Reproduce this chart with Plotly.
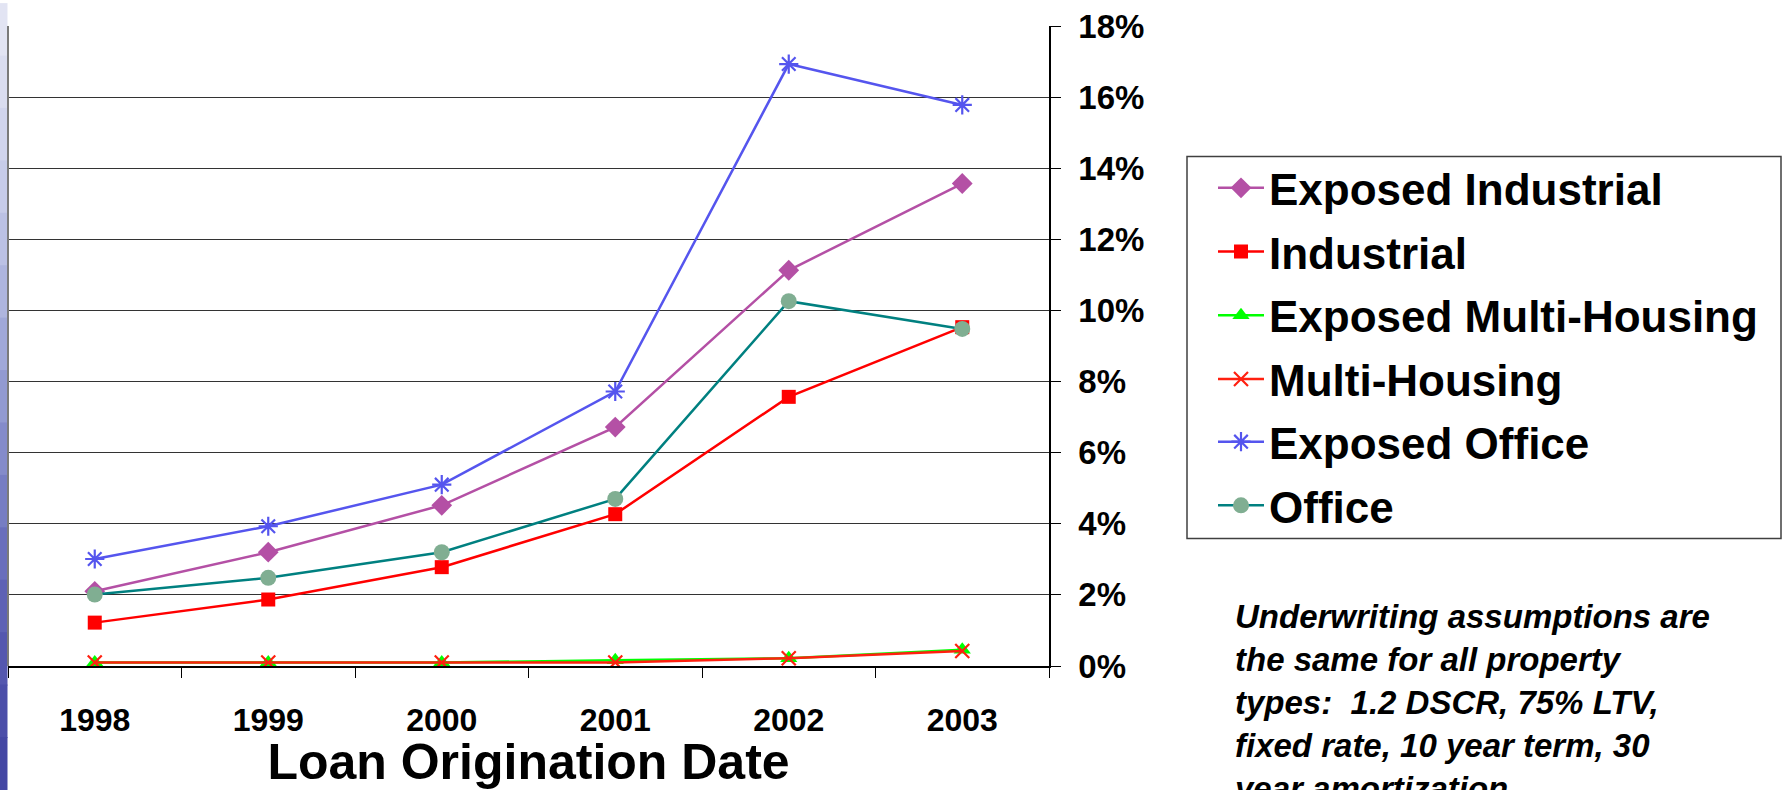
import plotly.graph_objects as go

# ---------------- data ----------------
years = ["1998", "1999", "2000", "2001", "2002", "2003"]

exposed_industrial = [2.10, 3.20, 4.52, 6.72, 11.13, 13.57]
industrial = [1.22, 1.87, 2.78, 4.27, 7.57, 9.53]
exposed_multi_housing = [0.10, 0.10, 0.10, 0.16, 0.22, 0.46]
multi_housing = [0.10, 0.10, 0.10, 0.10, 0.22, 0.42]
exposed_office = [3.01, 3.93, 5.10, 7.72, 16.93, 15.78]
office = [2.01, 2.48, 3.20, 4.70, 10.26, 9.48]

y_tick_vals = [0, 2, 4, 6, 8, 10, 12, 14, 16, 18]
y_tick_text = ["0%", "2%", "4%", "6%", "8%", "10%", "12%", "14%", "16%", "18%"]

note_lines = [
    "Underwriting assumptions are",
    "the same for all property",
    "types:  1.2 DSCR, 75% LTV,",
    "fixed rate, 10 year term, 30",
    "year amortization",
]

# ---------------- layout geometry (pixels) ----------------
FW, FH = 1784, 790
L, R, T, B = 8, 1049, 23, 666
W, H = R - L, B - T


def px_x(px):
    return (px - L) / W


def px_y(py):
    return (B - py) / H


FONT = "Liberation Sans, Arial, sans-serif"

series = [
    ("Exposed Industrial", exposed_industrial, "#B450A5", dict(symbol="diamond", size=16, color="#B450A5")),
    ("Industrial", industrial, "#FF0000", dict(symbol="square", size=14, color="#FF0000")),
    ("Exposed Multi-Housing", exposed_multi_housing, "#00FF00", dict(symbol="triangle-up", size=15, color="#00FF00")),
    ("Multi-Housing", multi_housing, "#FF2010", dict(symbol="x-thin", size=14, color="#FF2010", line=dict(width=2.2, color="#FF2010"))),
    ("Exposed Office", exposed_office, "#5555EE", dict(symbol="asterisk", size=16, color="#5555EE", line=dict(width=2.2, color="#5555EE"))),
    ("Office", office, "#008080", dict(symbol="circle", size=16, color="#80AE92")),
]
legend_centers = [186, 250, 314, 378, 441, 505]

fig = go.Figure()
legend_layouts = {}
for i, (name, vals, lc, mk) in enumerate(series):
    lname = "legend" if i == 0 else f"legend{i + 1}"
    fig.add_trace(go.Scatter(
        x=years, y=vals, name=name, mode="lines+markers",
        line=dict(color=lc, width=2.5), marker=mk, legend=lname,
    ))
    legend_layouts[lname] = dict(
        x=px_x(1213), y=px_y(legend_centers[i]), xanchor="left", yanchor="middle",
        font=dict(family=FONT, size=44, color="black", weight="bold"),
        bgcolor="rgba(0,0,0,0)", borderwidth=0, itemwidth=46,
    )

shapes = []
# left decorative gradient strip (slide background)
strip_cols = ["#E2E4F3", "#DADDF0", "#D1D5ED", "#C7CCE9", "#BBC1E4", "#AEB5DE", "#A0A8D8",
              "#929AD1", "#848BCA", "#767DC3", "#696EBC", "#5E62B5", "#5457AF", "#4B4EA9", "#4447A4"]
n = len(strip_cols)
for i, c in enumerate(strip_cols):
    y0 = i * FH / n
    y1 = (i + 1) * FH / n + 1
    shapes.append(dict(type="rect", xref="paper", yref="paper",
                       x0=px_x(0), x1=px_x(7.5), y0=px_y(y1), y1=px_y(y0),
                       fillcolor=c, line=dict(width=0), layer="below"))
# left border of plot area
shapes.append(dict(type="line", xref="paper", yref="paper", x0=0, x1=0, y0=0, y1=1,
                   line=dict(color="#7A7A7A", width=2)))
# legend frame
shapes.append(dict(type="rect", xref="paper", yref="paper",
                   x0=px_x(1187), x1=px_x(1781), y0=px_y(538), y1=px_y(154),
                   line=dict(color="#404040", width=1.5), fillcolor="rgba(0,0,0,0)"))

fig.update_layout(
    width=FW, height=FH,
    margin=dict(l=L, r=FW - R, t=T, b=FH - B),
    paper_bgcolor="white", plot_bgcolor="white",
    font=dict(family=FONT, color="black"),
    shapes=shapes,
    showlegend=True,
    xaxis=dict(
        type="category", range=[-0.5, 5.5],
        showgrid=False, showline=True, linecolor="black", linewidth=1.5,
        ticks="outside", ticklen=10, tickcolor="black", tickwidth=1.2,
        tickson="boundaries", ticklabelstandoff=25,
        tickfont=dict(family=FONT, size=32, color="black", weight="bold"),
        title=dict(text="Loan Origination Date", standoff=3,
                   font=dict(family=FONT, size=50, color="black", weight="bold")),
        zeroline=False, fixedrange=True,
    ),
    yaxis=dict(
        side="right", range=[0, 18], tickvals=y_tick_vals, ticktext=y_tick_text,
        showgrid=True, gridcolor="#333333", gridwidth=1.2,
        showline=True, linecolor="black", linewidth=1.5,
        ticks="outside", ticklen=10, tickcolor="black", tickwidth=1.2,
        ticklabelstandoff=11,
        tickfont=dict(family=FONT, size=33, color="black", weight="bold"),
        zeroline=False, fixedrange=True,
    ),
    **legend_layouts,
)

fig.add_annotation(
    xref="paper", yref="paper", x=px_x(1231), y=px_y(596),
    xanchor="left", yanchor="top", align="left", showarrow=False,
    text="<br>".join(note_lines),
    font=dict(family=FONT, size=33, color="black", weight="bold", style="italic"),
)

fig.write_html("out.html", config={"displayModeBar": False},
               post_script="document.body.style.margin='0';")
